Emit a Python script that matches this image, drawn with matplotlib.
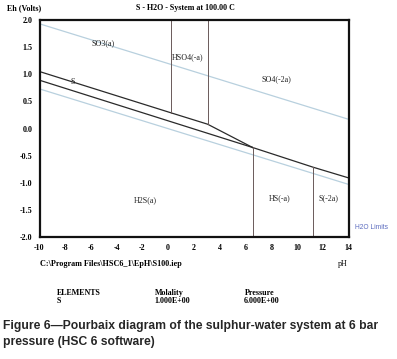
import matplotlib
matplotlib.use("Agg")
import matplotlib.pyplot as plt

# ---- data ----
ph_range = [-10, 14]
eh_o2_limit = [1.93, 0.17]      # upper H2O stability limit
eh_h2_limit = [0.73, -1.03]     # lower H2O stability limit

ph_s_upper = [-10, 0.2, 3.05, 6.55]
eh_s_upper = [1.05, 0.29, 0.08, -0.35]
ph_s_lower = [-10, 6.55]
eh_s_lower = [0.89, -0.35]
ph_sulfide = [6.55, 11.27, 14]
eh_sulfide = [-0.35, -0.715, -0.91]

ph_vertical = [0.2, 3.05, 6.55, 11.27]
eh_vertical_lo = [0.29, 0.08, -2.0, -2.0]
eh_vertical_hi = [2.0, 2.0, -0.35, -0.715]

species = ["SO3(a)", "HSO4(-a)", "SO4(-2a)", "S", "H2S(a)", "HS(-a)", "S(-2a)"]
species_ph = [-5.1, 1.5, 8.4, -7.4, -1.8, 8.65, 12.45]
species_eh = [1.57, 1.32, 0.91, 0.86, -1.32, -1.29, -1.29]

xticks = list(range(-10, 15, 2))
yticks = [2.0, 1.5, 1.0, 0.5, 0.0, -0.5, -1.0, -1.5, -2.0]

serif = "Liberation Serif"
sans = "Liberation Sans"

fig = plt.figure(figsize=(3.97, 3.59), dpi=100)
ax = fig.add_axes([39.5 / 397, 1 - 237 / 359, 309 / 397, 217 / 359])

ax.plot(ph_range, eh_o2_limit, color="#b8d0de", lw=0.9)
ax.plot(ph_range, eh_h2_limit, color="#b8d0de", lw=0.9)
ax.plot(ph_s_upper, eh_s_upper, color="#2a2a2a", lw=0.9)
ax.plot(ph_s_lower, eh_s_lower, color="#2a2a2a", lw=0.9)
ax.plot(ph_sulfide, eh_sulfide, color="#2a2a2a", lw=0.9)
for x, lo, hi in zip(ph_vertical, eh_vertical_lo, eh_vertical_hi):
    ax.plot([x, x], [lo, hi], color="#6a5a5a", lw=0.7)

for name, x, y in zip(species, species_ph, species_eh):
    ax.text(x, y, name, fontsize=5.8, family=serif, ha="center", va="center",
            color="#222222")

ax.set_xlim(-10, 14)
ax.set_ylim(-2.0, 2.0)
ax.set_xticks(xticks)
ax.set_xticklabels([str(t) for t in xticks])
ax.set_yticks(yticks)
ax.set_yticklabels([f"{t:.1f}" for t in yticks])
ax.tick_params(length=0, labelsize=5.8, pad=5)
for lab in ax.get_xticklabels() + ax.get_yticklabels():
    lab.set_family(serif)
    lab.set_fontweight("bold")
for sp in ax.spines.values():
    sp.set_linewidth(1.6)
    sp.set_color("#111111")

ax.text(14.5, -1.83, "H2O Limits", fontsize=4.8, family=sans, color="#5b6bbf",
        ha="left", va="center", clip_on=False)

def ftext(x, y, s, **kw):
    fig.text(x / 397, 1 - y / 359, s, **kw)

ftext(24.5, 8, "Eh (Volts)", fontsize=5.8, family=serif, weight="bold", ha="center", va="center")
ftext(185, 8, "S - H2O - System at 100.00 C", fontsize=5.8, family=serif, weight="bold",
      ha="center", va="center")
ftext(40, 264, "C:\\Program Files\\HSC6_1\\EpH\\S100.iep", fontsize=5.9, family=serif,
      weight="bold", ha="left", va="center")
ftext(343, 264, "pH", fontsize=5.8, family=serif, ha="center", va="center")
ftext(57, 293, "ELEMENTS", fontsize=5.8, family=serif, weight="bold", ha="left", va="center")
ftext(57, 301, "S", fontsize=5.8, family=serif, weight="bold", ha="left", va="center")
ftext(155, 293, "Molality", fontsize=5.8, family=serif, weight="bold", ha="left", va="center")
ftext(154, 301, "1.000E+00", fontsize=5.8, family=serif, weight="bold", ha="left", va="center")
ftext(245, 293, "Pressure", fontsize=5.8, family=serif, weight="bold", ha="left", va="center")
ftext(244, 301, "6.000E+00", fontsize=5.8, family=serif, weight="bold", ha="left", va="center")

ftext(3, 326, "Figure 6\u2014Pourbaix diagram of the sulphur-water system at 6 bar",
      fontsize=8.75, family=sans, weight="bold", ha="left", va="center", color="#262626")
ftext(3, 342, "pressure (HSC 6 software)",
      fontsize=8.75, family=sans, weight="bold", ha="left", va="center", color="#262626")

fig.savefig("out.png", dpi=100)
